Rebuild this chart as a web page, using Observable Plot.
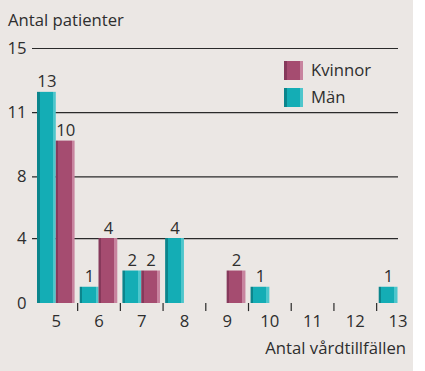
<!DOCTYPE html>
<html>
<head>
<meta charset="utf-8">
<script src="https://cdn.jsdelivr.net/npm/d3@7"></script>
<script src="https://cdn.jsdelivr.net/npm/@observablehq/plot@0.6"></script>
<style>
  body { margin: 0; background: #ffffff; }
  #wrap { position: relative; width: 425px; height: 371px; font-family: "Open Sans", sans-serif; color: #2e2e2e; }
  #bg { position: absolute; left: 0; top: 0; width: 413px; height: 371px; background: #ebe7e4; }
  #chart { position: absolute; left: 0; top: 0; }
  .lbl { position: absolute; font-size: 16.7px; line-height: 1; white-space: nowrap; }
  .sw { position: absolute; width: 19px; height: 19px; }
</style>
</head>
<body>
<div id="wrap">
  <div id="bg"></div>
  <div id="chart"></div>
  <div class="lbl" id="ytitle" style="left:8px; top:12px;"></div>
  <div class="lbl" id="xtitle" style="right:19px; top:340px;"></div>
  <div id="legend"></div>
</div>
<script>
// ---- data ----
const categories = ["5", "6", "7", "8", "9", "10", "11", "12", "13"];
const seriesNames = ["Kvinnor", "Män"];
const kvinnorValues = [10, 4, 2, null, 2, null, null, null, null];
const manValues = [13, 1, 2, 4, null, 1, null, null, 1];
const yTickValues = [0, 4, 7.8, 11.75, 15.7];
const yTickLabels = ["0", "4", "8", "11", "15"];
const yTitle = "Antal patienter";
const xTitle = "Antal vårdtillfällen";

// ---- styles ----
const colors = {
  "Män": {dark: "#0b858c", main: "#14adb5", light: "#4ec6cc"},
  "Kvinnor": {dark: "#86395b", main: "#a54c70", light: "#c8849f"}
};
const gradId = {"Män": "gMan", "Kvinnor": "gKv"};

const rows = [];
categories.forEach((c, i) => {
  if (manValues[i] != null) rows.push({cat: c, series: "Män", value: manValues[i]});
  if (kvinnorValues[i] != null) rows.push({cat: c, series: "Kvinnor", value: kvinnorValues[i]});
});
const men = rows.filter(d => d.series === "Män");
const women = rows.filter(d => d.series === "Kvinnor");

const W = 425, H = 371;
const xRange = [37, 416.3];
const padInner = 0.12;
const band = d3.scaleBand().domain(categories).range(xRange).paddingInner(padInner).paddingOuter(0);
const bw = band.bandwidth();
const step = band.step();
const font = {fontFamily: "'Open Sans', sans-serif", fontSize: "16.7px", color: "#2e2e2e", background: "transparent", overflow: "visible"};

const plot = Plot.plot({
  width: W,
  height: H,
  marginLeft: 32,
  marginRight: 27,
  marginTop: 48,
  marginBottom: 68,
  style: font,
  x: {type: "band", domain: categories, range: xRange, paddingInner: padInner, paddingOuter: 0, round: false, tickSize: 0, tickPadding: 12, label: null},
  y: {domain: [0, 15.7], ticks: yTickValues, tickFormat: d => yTickLabels[yTickValues.indexOf(d)], tickSize: 0, tickPadding: 6, label: null},
  marks: [
    Plot.ruleY(yTickValues.filter(v => v > 0), {stroke: "#2a2a2a", strokeWidth: 1.2}),
    Plot.ruleX(categories.slice(0, -1), {x: d => d, dx: step / 2, y1: 0, y2: -0.5, stroke: "#2a2a2a", strokeWidth: 1.2}),
    Plot.barY(men, {x: "cat", y: "value", fill: "url(#gMan)", insetRight: bw / 2}),
    Plot.barY(women, {x: "cat", y: "value", fill: "url(#gKv)", insetLeft: bw / 2}),
    Plot.text(men, {x: "cat", y: "value", text: d => String(d.value), dx: -bw / 4, dy: -5, lineAnchor: "bottom", fill: "#2e2e2e"}),
    Plot.text(women, {x: "cat", y: "value", text: d => String(d.value), dx: bw / 4, dy: -5, lineAnchor: "bottom", fill: "#2e2e2e"})
  ]
});

// gradients for the shaded bar look
const svgNS = "http://www.w3.org/2000/svg";
const svg = plot.tagName.toLowerCase() === "svg" ? plot : plot.querySelector("svg");
const defs = document.createElementNS(svgNS, "defs");
for (const s of seriesNames) {
  const g = document.createElementNS(svgNS, "linearGradient");
  g.setAttribute("id", gradId[s]);
  g.setAttribute("x1", "0"); g.setAttribute("x2", "1"); g.setAttribute("y1", "0"); g.setAttribute("y2", "0");
  const stops = [[0, colors[s].dark], [0.14, colors[s].dark], [0.14, colors[s].main], [0.84, colors[s].main], [0.84, colors[s].light], [1, colors[s].light]];
  for (const [o, c] of stops) {
    const st = document.createElementNS(svgNS, "stop");
    st.setAttribute("offset", o); st.setAttribute("stop-color", c);
    g.appendChild(st);
  }
  defs.appendChild(g);
}
svg.insertBefore(defs, svg.firstChild);
document.getElementById("chart").appendChild(plot);

document.getElementById("ytitle").textContent = yTitle;
document.getElementById("xtitle").textContent = xTitle;

// legend
const legend = document.getElementById("legend");
const legendTop = [61, 88];
seriesNames.forEach((s, i) => {
  const sw = document.createElement("div");
  sw.className = "sw";
  sw.style.left = "284px";
  sw.style.top = legendTop[i] + "px";
  const c = colors[s];
  sw.style.background = `linear-gradient(to right, ${c.dark} 0%, ${c.dark} 14%, ${c.main} 14%, ${c.main} 84%, ${c.light} 84%, ${c.light} 100%)`;
  legend.appendChild(sw);
  const t = document.createElement("div");
  t.className = "lbl";
  t.style.left = "311px";
  t.style.top = (legendTop[i] + 1) + "px";
  t.textContent = s;
  legend.appendChild(t);
});
</script>
</body>
</html>
